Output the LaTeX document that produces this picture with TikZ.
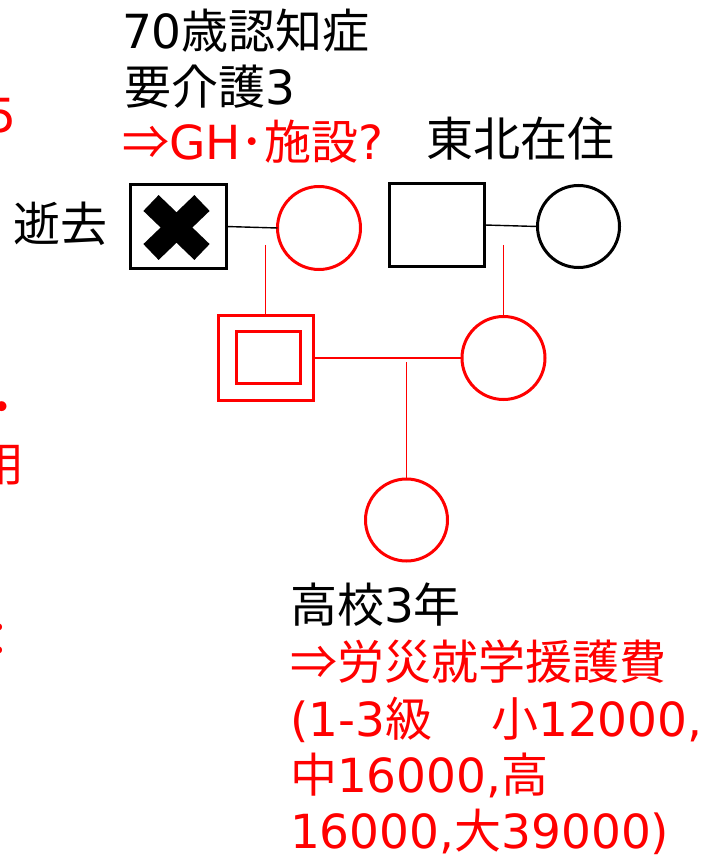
\documentclass[tikz,border=0pt]{standalone}
\usepackage{fontspec}
\setmainfont{Noto Sans CJK JP}
\newfontfamily\latf{DejaVu Sans}
\begin{document}
\begin{tikzpicture}[x=1pt,y=-1pt,
  txt/.style={inner sep=0pt, outer sep=0pt, anchor=base west, font=\fontsize{47}{56}\selectfont},
  redt/.style={txt, text=red},
  frag/.style={inner sep=0pt, outer sep=0pt, anchor=base east, text=red, font=\fontsize{47}{56}\selectfont},
  mbox/.style={draw, line width=3pt, rectangle, inner sep=0pt, outer sep=0pt},
  fcirc/.style={draw, line width=3pt, circle, inner sep=0pt, outer sep=0pt},
  conn/.style={line width=1.4pt},
  rconn/.style={line width=1.3pt, draw=red}]
\useasboundingbox (0,0) rectangle (704,858);
\clip (0,0) rectangle (704,858);

% clipped fragments at the left edge
\node[frag] (f1) at (16,133) {\latf 5};
\node[frag] (f2) at (25.5,424) {・};
\node[frag] (f3) at (25,481) {用};
\node[frag] (f4) at (23,656) {：};

% texts
\node[txt] (t1) at (122,49) {{\latf 70}歳認知症};
\node[txt] (t2) at (124,105) {要介護{\latf 3}};
\node[redt] (t3) at (122,160) {⇒{\latf GH}･施設{\latf ?}};
\node[txt] (t4) at (426,157) {東北在住};
\node[txt] (t5) at (13,242) {逝去};
\node[txt] (t6) at (290,622) {高校{\latf 3}年};
\node[redt] (t7) at (290,679) {⇒労災就学援護費};
\node[redt] (t8) at (290,736) {{\latf (1-3}級　\kern12pt 小{\latf 12000,}};
\node[redt] (t9) at (290,792) {中{\latf 16000,}高};
\node[redt] (t10) at (290,848) {{\latf 16000,}大{\latf 39000)}};

% people
\node[mbox, minimum width=96pt, minimum height=84pt] (gf) at (178,226.5) {};
\draw[line width=22pt, line cap=butt] (151,203) -- (202,252);
\draw[line width=22pt, line cap=butt] (151,252) -- (202,203);
\node[fcirc, draw=red, minimum size=83pt] (gm) at (319,228) {};
\node[mbox, minimum width=95pt, minimum height=83pt] (wf) at (437,225) {};
\node[fcirc, minimum size=82pt] (wm) at (578.5,226.5) {};
\node[mbox, draw=red, minimum width=95pt, minimum height=85pt] (son) at (265.5,358) {};
\node[mbox, draw=red, minimum width=64pt, minimum height=52pt] (soni) at (268.5,357.5) {};
\node[fcirc, draw=red, minimum size=83pt] (wife) at (503.5,358) {};
\node[fcirc, draw=red, minimum size=82pt] (child) at (406.5,520) {};

% connectors
\draw[conn] (gf.east) -- (gm.west);
\draw[conn] (wf.east) -- (wm.west);
\coordinate (p1) at (265.5,245);
\coordinate (p2) at (503.5,245);
\coordinate (p3) at (406.5,362);
\draw[rconn] (p1) -- (son.north);
\draw[rconn] (p2) -- (wife.north);
\draw[rconn] (son.east) -- (wife.west);
\draw[rconn] (p3) -- (child.north);
\end{tikzpicture}
\end{document}
